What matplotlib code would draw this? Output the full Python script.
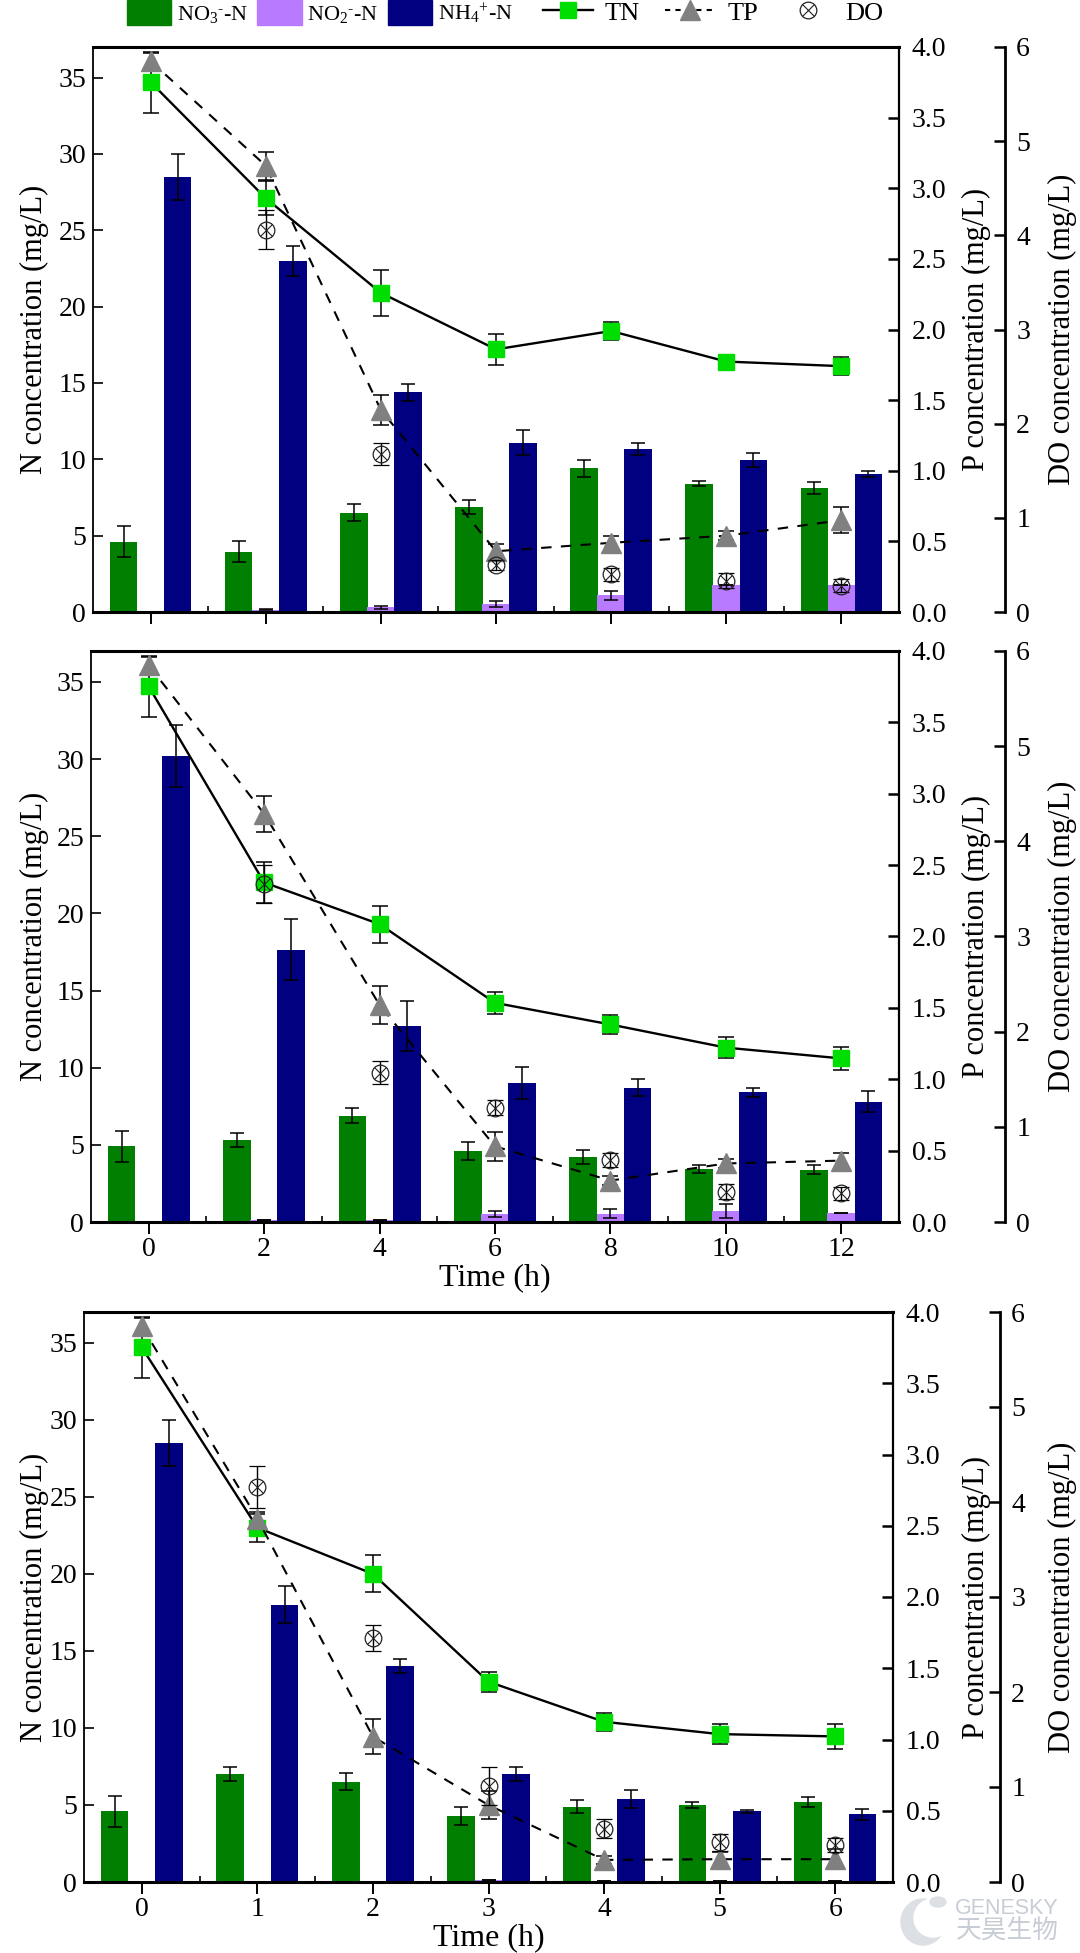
import matplotlib
matplotlib.use("Agg")
import matplotlib.pyplot as plt
from matplotlib.legend_handler import HandlerTuple
from matplotlib.lines import Line2D
from matplotlib.patches import Patch, Ellipse

# ---- data ----
ticks_a = ["0", "2", "4", "6", "8", "10", "12"]
ticks_c = ["0", "1", "2", "3", "4", "5", "6"]

no3_a = [4.6, 3.95, 6.5, 6.9, 9.4, 8.4, 8.1]
no3_a_err = [1.0, 0.7, 0.55, 0.45, 0.55, 0.15, 0.4]
no2_a = [0, 0.15, 0.3, 0.55, 1.1, 1.8, 1.8]
no2_a_err = [0, 0.05, 0.1, 0.2, 0.3, 0, 0]
nh4_a = [28.5, 23, 14.4, 11.1, 10.65, 9.95, 9.05]
nh4_a_err = [1.5, 1.0, 0.55, 0.85, 0.4, 0.45, 0.2]
tn_a = [34.7, 27.1, 20.9, 17.2, 18.4, 16.4, 16.1]
tn_a_err = [2.0, 1.1, 1.5, 1.0, 0.6, 0.45, 0.6]
tp_a = [3.9, 3.16, 1.43, 0.43, 0.49, 0.54, 0.65]
tp_a_err = [0.06, 0.1, 0.105, 0.05, 0.05, 0.03, 0.09]
do_a = [None, 4.06, 1.68, 0.5, 0.4, 0.33, 0.28]
do_a_err = [0, 0.21, 0.12, 0.05, 0.07, 0.08, 0.07]

no3_b = [4.9, 5.3, 6.9, 4.6, 4.2, 3.45, 3.4]
no3_b_err = [1.0, 0.45, 0.5, 0.6, 0.45, 0.25, 0.3]
no2_b = [0, 0.15, 0.15, 0.5, 0.55, 0.7, 0.6]
no2_b_err = [0, 0, 0, 0.2, 0.3, 0.45, 0]
nh4_b = [30.2, 17.65, 12.7, 9.0, 8.7, 8.4, 7.8]
nh4_b_err = [2.0, 2.0, 1.6, 1.05, 0.55, 0.3, 0.7]
tn_b = [34.7, 22.0, 19.3, 14.2, 12.8, 11.3, 10.6]
tn_b_err = [2.0, 1.3, 1.2, 0.7, 0.6, 0.7, 0.75]
tp_b = [3.9, 2.86, 1.52, 0.53, 0.29, 0.41, 0.43]
tp_b_err = [0.06, 0.125, 0.13, 0.1, 0.03, 0.03, 0.05]
do_b = [None, 3.55, 1.57, 1.2, 0.65, 0.32, 0.3]
do_b_err = [0, 0.2, 0.12, 0.08, 0.07, 0.08, 0.07]

no3_c = [4.6, 7.0, 6.5, 4.3, 4.9, 5.0, 5.2]
no3_c_err = [1.0, 0.45, 0.55, 0.6, 0.4, 0.2, 0.3]
no2_c = [0, 0, 0, 0.15, 0.05, 0.05, 0.05]
no2_c_err = [0, 0, 0, 0, 0, 0, 0]
nh4_c = [28.5, 18.0, 14.0, 7.0, 5.4, 4.6, 4.4]
nh4_c_err = [1.5, 1.2, 0.45, 0.45, 0.6, 0.1, 0.35]
tn_c = [34.7, 23.0, 20.0, 13.0, 10.4, 9.6, 9.45]
tn_c_err = [2.0, 0.9, 1.2, 0.65, 0.6, 0.65, 0.8]
tp_c = [3.9, 2.55, 1.02, 0.54, 0.155, 0.16, 0.16]
tp_c_err = [0.06, 0.05, 0.125, 0.1, 0.03, 0.05, 0.07]
do_c = [None, 4.16, 2.57, 1.01, 0.56, 0.42, 0.39]
do_c_err = [0, 0.22, 0.14, 0.2, 0.1, 0.09, 0.07]

# ---- style ----
FONT = ["Liberation Serif", "DejaVu Serif"]
plt.rcParams["font.family"] = FONT
plt.rcParams["mathtext.fontset"] = "custom"
plt.rcParams["mathtext.rm"] = "Liberation Serif"
plt.rcParams["mathtext.default"] = "rm"
GREEN, PURPLE, NAVY, LIME, GRAY = "#007F00", "#B87AFF", "#000080", "#00DD00", "#808080"
W, H = 1080, 1953
FS = 20
LAB = 22

fig = plt.figure(figsize=(W / 100, H / 100), dpi=100)


def panel(box, do_x, ticks, no3, no3e, no2, no2e, nh4, nh4e, tn, tne, tp, tpe, dv, doe, xlabel=False):
    l, r, t, b = box
    ax = fig.add_axes([l / W, 1 - b / H, (r - l) / W, (b - t) / H])
    x = list(range(len(ticks)))
    bw, off = 0.24, 0.235
    ek = dict(ecolor="black", elinewidth=1.1, capsize=5, capthick=1.1)
    ax.bar([i - off for i in x], no3, bw, color=GREEN, yerr=no3e, error_kw=ek)
    ax.bar(x, no2, bw, color=PURPLE, yerr=no2e, error_kw=ek)
    ax.bar([i + off for i in x], nh4, bw, color=NAVY, yerr=nh4e, error_kw=ek)
    ax.errorbar(x, tn, yerr=tne, color="black", lw=1.7, marker="s", ms=11.5, mfc=LIME, mec=LIME,
                ecolor="black", elinewidth=1.1, capsize=6, capthick=1.1, zorder=5)
    ax.set_xlim(-0.5, 6.5)
    ax.set_ylim(0, 37)
    ax.set_xticks(x)
    ax.set_xticks([i + 0.5 for i in x[:-1]], minor=True)
    ax.set_yticks(range(0, 36, 5))
    ax.tick_params(axis="x", which="major", direction="out", length=8.5, width=1.4, labelsize=FS, pad=2)
    ax.tick_params(axis="x", which="minor", direction="in", length=4, width=1.2)
    ax.tick_params(axis="y", direction="in", length=7, width=1.2, labelsize=FS, pad=5)
    if not xlabel:
        ax.set_xticklabels([""] * len(x))
    else:
        ax.set_xticklabels(ticks)
    ax.set_ylabel("N concentration (mg/L)", fontsize=LAB)
    ax.yaxis.set_label_coords((49 - l) / (r - l), 0.5)
    ax.spines["top"].set_linewidth(2.2)
    ax.spines["bottom"].set_linewidth(2.2)
    ax.spines["left"].set_linewidth(1.3)
    ax.spines["right"].set_linewidth(1.6)
    if xlabel:
        ax.set_xlabel("Time (h)", fontsize=LAB + 1, labelpad=1)

    ax2 = ax.twinx()
    ax2.errorbar(x, tp, yerr=tpe, color="black", lw=1.5, ls=(0, (5, 4.5)), marker="^", ms=15,
                 mfc=GRAY, mec=GRAY, ecolor="black", elinewidth=1.1, capsize=6, capthick=1.1)
    ax2.set_ylim(0, 4)
    ax2.set_yticks([0, 0.5, 1, 1.5, 2, 2.5, 3, 3.5, 4])
    ax2.set_yticklabels(["0.0", "0.5", "1.0", "1.5", "2.0", "2.5", "3.0", "3.5", "4.0"])
    ax2.tick_params(axis="y", direction="in", length=8, width=1.8, labelsize=FS, pad=9)
    ax2.set_ylabel("P concentration (mg/L)", fontsize=LAB)
    ax2.yaxis.set_label_coords((962 - l) / (r - l), 0.5)
    for s in ax2.spines.values():
        s.set_visible(False)

    ax3 = ax.twinx()
    ax3.spines["right"].set_position(("axes", (do_x - l) / (r - l)))
    xs = [i for i, v in zip(x, dv) if v is not None]
    ys = [v for v in dv if v is not None]
    es = [e for v, e in zip(dv, doe) if v is not None]
    ax3.errorbar(xs, ys, yerr=es, ls="none", marker="o", ms=12, mfc="none", mec="#222222", mew=0.9,
                 ecolor="black", elinewidth=1.0, capsize=6, capthick=1.0)
    ax3.plot(xs, ys, ls="none", marker="x", ms=8, mec="#222222", mew=0.8)
    ax3.set_ylim(0, 6)
    ax3.set_yticks(range(7))
    ax3.tick_params(axis="y", direction="in", length=8, width=1.8, labelsize=FS, pad=8)
    ax3.set_ylabel("DO concentration (mg/L)", fontsize=LAB)
    ax3.yaxis.set_label_coords((1048 - l) / (r - l), 0.5)
    for n, s in ax3.spines.items():
        s.set_visible(n == "right")
    ax3.spines["right"].set_linewidth(2.0)
    return ax


panel((93, 899, 47, 612), 1005, ticks_a, no3_a, no3_a_err, no2_a, no2_a_err, nh4_a, nh4_a_err,
      tn_a, tn_a_err, tp_a, tp_a_err, do_a, do_a_err)
panel((91, 899, 651, 1222), 1005, ticks_a, no3_b, no3_b_err, no2_b, no2_b_err, nh4_b, nh4_b_err,
      tn_b, tn_b_err, tp_b, tp_b_err, do_b, do_b_err, xlabel=True)
panel((84, 893, 1312, 1882), 1000, ticks_c, no3_c, no3_c_err, no2_c, no2_c_err, nh4_c, nh4_c_err,
      tn_c, tn_c_err, tp_c, tp_c_err, do_c, do_c_err, xlabel=True)

bar_handles = [Patch(color=GREEN), Patch(color=PURPLE), Patch(color=NAVY)]
bar_labels = [r"NO$_3$$^{\text{-}}$-N", r"NO$_2$$^{\text{-}}$-N", r"NH$_4$$^{+}$-N"]
fig.legend(bar_handles, bar_labels, loc="center left", bbox_to_anchor=(127 / W, 1 - 13 / H), ncol=3,
           frameon=False, fontsize=16, handlelength=2.0, handleheight=1.3, handletextpad=0.25,
           columnspacing=0.4, borderpad=0, borderaxespad=0)
line_handles = [
    Line2D([], [], color="black", lw=1.7, marker="s", ms=11.5, mfc=LIME, mec=LIME),
    Line2D([], [], color="black", lw=1.5, ls=(0, (2.5, 2.5)), marker="^", ms=15, mfc=GRAY, mec=GRAY),
    (Line2D([], [], ls="none", marker="o", ms=12, mfc="none", mec="#222222", mew=0.9),
     Line2D([], [], ls="none", marker="x", ms=8, mec="#222222", mew=0.8)),
]
fig.legend(line_handles, ["TN", "TP", "DO"], loc="center left", bbox_to_anchor=(543 / W, 1 - 13 / H), ncol=3,
           frameon=False, fontsize=19, handlelength=1.9, handletextpad=0.45, columnspacing=0.95,
           borderpad=0, borderaxespad=0, handler_map={tuple: HandlerTuple(ndivide=1, pad=0)})

# watermark
WM = "#c8ccd4"
fig.text(1007 / W, 1 - 1909 / H, "GENESKY", color=WM, fontsize=15.5, family=["Liberation Sans"],
         ha="center", va="center")
fig.text(1007 / W, 1 - 1932 / H, "天昊生物", color=WM, fontsize=18.5, family=["Noto Sans CJK SC"],
         ha="center", va="center")
for cx, cy, rx, ry, c in [(923, 1922, 22, 23, "#dcdfe3"), (933, 1918, 19, 19, "white"),
                          (938, 1902, 8, 5, "#dcdfe3")]:
    fig.add_artist(Ellipse((cx / W, 1 - cy / H), 2 * rx / W, 2 * ry / H, color=c,
                           transform=fig.transFigure))

fig.savefig("out.png", dpi=100)
